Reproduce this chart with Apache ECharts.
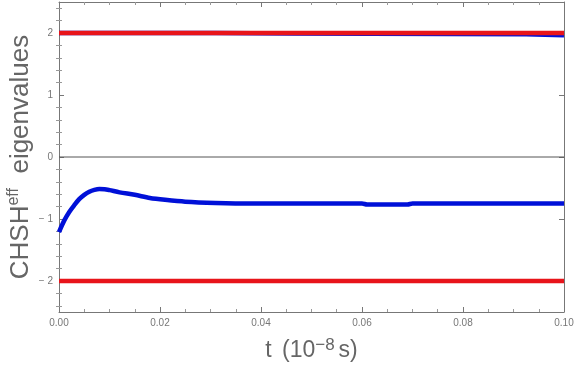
<!DOCTYPE html>
<html>
<head>
<meta charset="utf-8">
<script src="https://cdn.jsdelivr.net/npm/echarts@6/dist/echarts.min.js"></script>
<style>
  html, body { margin: 0; padding: 0; background: #fff; }
  #chart { width: 576px; height: 366px; }
</style>
</head>
<body>
<div id="chart"></div>
<script>
// lower eigenvalue (blue)
const lowerT = [0, 0.001, 0.002, 0.003, 0.004, 0.005, 0.006, 0.007, 0.008, 0.009, 0.010, 0.012, 0.015, 0.018, 0.021, 0.025, 0.031, 0.038, 0.045, 0.052, 0.060, 0.061, 0.069, 0.070, 0.080, 0.090, 0.100];
const lowerV = [-1.21, -1.03, -0.89, -0.78, -0.68, -0.61, -0.56, -0.53, -0.515, -0.52, -0.535, -0.57, -0.61, -0.66, -0.69, -0.72, -0.74, -0.75, -0.75, -0.75, -0.75, -0.765, -0.765, -0.75, -0.75, -0.75, -0.75];
// upper eigenvalue (blue, just under the red bound)
const upperT = [0, 0.031, 0.0311, 0.0465, 0.0466, 0.0925, 0.0926, 0.100];
const upperV = [2.0, 2.0, 1.99, 1.99, 1.98, 1.98, 1.965, 1.965];
// classical bounds (red) and zero line
const boundT = [0, 0.1];
const boundHi = [2, 2];
const boundLo = [-2, -2];
const zeroV = [0, 0];

const xTicks = [0, 0.02, 0.04, 0.06, 0.08, 0.10];
const yTicks = [-2, -1, 0, 1, 2];
const yMinorTicks = [-2.4, -2.2, -1.8, -1.6, -1.4, -1.2, -0.8, -0.6, -0.4, -0.2,
  0.2, 0.4, 0.6, 0.8, 1.2, 1.4, 1.6, 1.8, 2.2, 2.4];

function pairs(t, v) {
  return t.map((x, i) => [x, v[i]]);
}

const chart = echarts.init(document.getElementById('chart'));

const frameLine = {show: true, onZero: false, lineStyle: {color: '#777', width: 1}};
const tickIn = {show: true, inside: true, length: 5, lineStyle: {color: '#777'}};
const minorIn = {show: true, splitNumber: 4, length: 3, lineStyle: {color: '#999'}};
const fontFam = 'Liberation Sans';

function yFrame(pos, withLabels) {
  return {
    type: 'value',
    position: pos,
    min: -2.5,
    max: 2.5,
    axisLine: frameLine,
    axisTick: {show: true, inside: true, length: 5, customValues: yTicks, lineStyle: {color: '#777'}},
    splitLine: {show: false},
    axisLabel: withLabels ? {
      color: '#777',
      fontSize: 10,
      fontFamily: fontFam,
      margin: 6,
      customValues: yTicks,
      formatter: v => v < 0 ? '\u2212 ' + Math.abs(v) : String(v)
    } : {show: false}
  };
}

function yMinor(pos) {
  return {
    type: 'value',
    position: pos,
    min: -2.5,
    max: 2.5,
    axisLine: {show: false},
    axisTick: {show: true, inside: true, length: 3, customValues: yMinorTicks, lineStyle: {color: '#999'}},
    splitLine: {show: false},
    axisLabel: {show: false}
  };
}

const yLeft = yFrame('left', true);
yLeft.name = 'CHSH{sup|eff}  eigenvalues';
yLeft.nameLocation = 'middle';
yLeft.nameGap = 24;
yLeft.nameRotate = 90;
yLeft.nameMoveOverlap = false;
yLeft.nameTextStyle = {
  fontFamily: fontFam,
  fontSize: 26,
  color: '#666',
  rich: {
    sup: {fontSize: 16, color: '#666', fontFamily: fontFam, padding: [0, 0, 13, 0]}
  }
};

chart.setOption({
  animation: false,
  grid: {left: 59, right: 12, top: 2, bottom: 54, outerBoundsMode: 'none', containLabel: false},
  xAxis: [
    {
      type: 'value',
      position: 'bottom',
      min: 0,
      max: 0.1,
      interval: 0.02,
      name: 't {p|(}10{sup|\u22128}{s|s)}',
      nameLocation: 'middle',
      nameGap: 25,
      nameTextStyle: {
        fontFamily: fontFam,
        fontSize: 23,
        color: '#666',
        verticalAlign: 'top',
        rich: {
          p: {fontSize: 23, color: '#666', fontFamily: fontFam, padding: [0, 0, 0, 4]},
          s: {fontSize: 23, color: '#666', fontFamily: fontFam, padding: [0, 0, 0, 4]},
          sup: {fontSize: 17, color: '#666', fontFamily: fontFam, padding: [0, 0, 11, 0]}
        }
      },
      axisLine: frameLine,
      axisTick: tickIn,
      minorTick: minorIn,
      splitLine: {show: false},
      minorSplitLine: {show: false},
      axisLabel: {
        color: '#777',
        fontSize: 10,
        fontFamily: fontFam,
        margin: 6,
        formatter: v => xTicks.some(t => Math.abs(t - v) < 1e-9) ? v.toFixed(2) : ''
      }
    },
    {
      type: 'value',
      position: 'top',
      min: 0,
      max: 0.1,
      interval: 0.02,
      axisLine: frameLine,
      axisTick: tickIn,
      minorTick: minorIn,
      splitLine: {show: false},
      axisLabel: {show: false}
    }
  ],
  yAxis: [
    yLeft,
    yFrame('right', false),
    yMinor('left'),
    yMinor('right')
  ],
  series: [
    {
      type: 'line', symbol: 'none', silent: true,
      lineStyle: {color: '#555', width: 1},
      data: pairs(boundT, zeroV),
      z: 1
    },
    {
      type: 'line', symbol: 'none', silent: true,
      lineStyle: {color: '#0010d8', width: 4.5},
      data: pairs(lowerT, lowerV),
      smooth: 0.3,
      z: 3
    },
    {
      type: 'line', symbol: 'none', silent: true,
      lineStyle: {color: '#0010d8', width: 4.5},
      data: pairs(upperT, upperV),
      z: 3
    },
    {
      type: 'line', symbol: 'none', silent: true,
      lineStyle: {color: '#e8141a', width: 4.5},
      data: pairs(boundT, boundHi),
      z: 4
    },
    {
      type: 'line', symbol: 'none', silent: true,
      lineStyle: {color: '#e8141a', width: 4.5},
      data: pairs(boundT, boundLo),
      z: 4
    }
  ]
});
</script>
</body>
</html>
